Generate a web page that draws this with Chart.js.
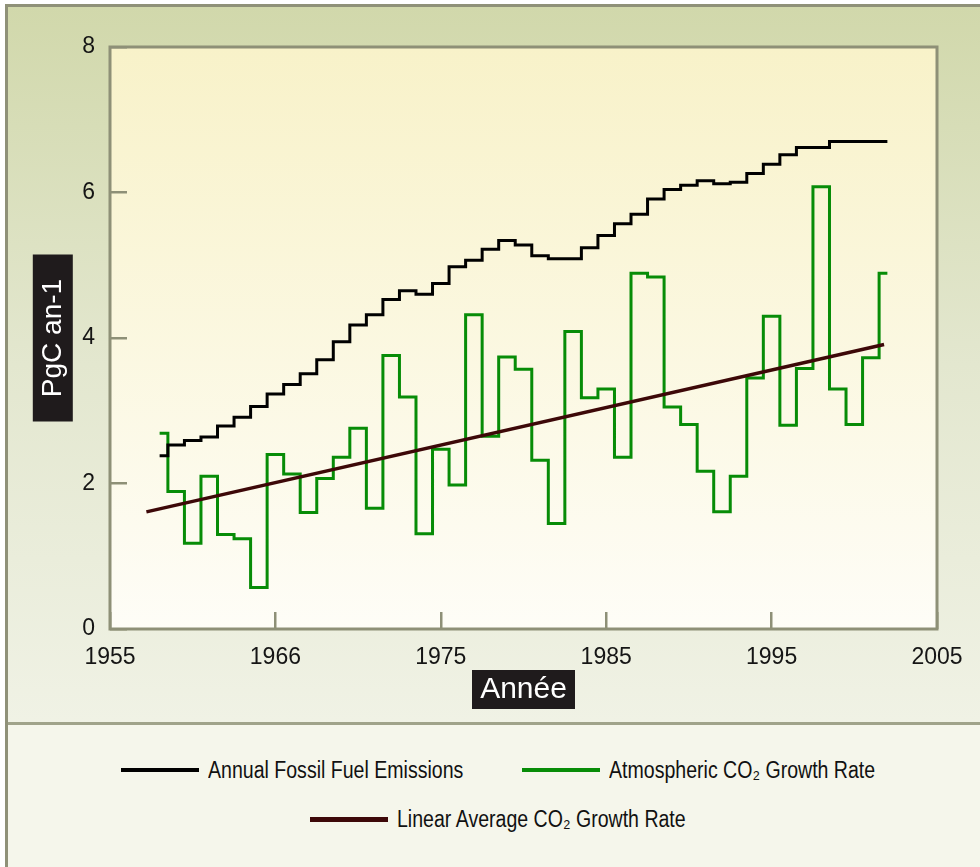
<!DOCTYPE html>
<html lang="fr">
<head>
<meta charset="utf-8">
<title>PgC an-1</title>
<script src="https://cdn.jsdelivr.net/npm/chart.js@4.4.1/dist/chart.umd.min.js"></script>
<style>
  html, body { margin: 0; padding: 0; background: #fff; }
  #page { position: relative; width: 980px; height: 867px; overflow: hidden; }
  #frame { position: absolute; left: 5px; top: 4px; right: 0; bottom: 0;
           border-top: 3px solid #8f9178; border-left: 3px solid #8f9178; }
  #topPanel { position: absolute; left: 0; top: 0; right: 0; height: 715px;
              background: linear-gradient(#d1d8ab, #e3e7cf 50%, #f0f2e5); }
  #sep { position: absolute; left: 0; right: 0; top: 715px; height: 3px; background: #a0a38a; }
  #bottomPanel { position: absolute; left: 0; right: 0; top: 718px; bottom: 0; background: #f5f6eb; }
  canvas { position: absolute; left: 0; top: 0; }
  #legend { position: absolute; left: 48px; top: 758px; width: 900px;
            display: flex; flex-wrap: wrap; justify-content: center;
            column-gap: 59px; row-gap: 25px; }
  #legend .item { display: flex; align-items: center; height: 24px; white-space: nowrap;
                  font: 23px 'Liberation Sans', Arial, sans-serif; color: #111; }
  #legend .swatch { display: inline-block; width: 78px; margin-right: 9px; }
  #legend .text { display: inline-block; transform-origin: left center; }
</style>
</head>
<body>
<div id="page">
  <div id="frame">
    <div id="topPanel"></div>
    <div id="sep"></div>
    <div id="bottomPanel"></div>
  </div>
  <canvas id="chart" width="980" height="722"></canvas>
  <div id="legend"></div>
</div>
<script>
// annual values, one step per year
const years = [
  1958, 1959, 1960, 1961, 1962, 1963, 1964, 1965, 1966, 1967,
  1968, 1969, 1970, 1971, 1972, 1973, 1974, 1975, 1976, 1977,
  1978, 1979, 1980, 1981, 1982, 1983, 1984, 1985, 1986, 1987,
  1988, 1989, 1990, 1991, 1992, 1993, 1994, 1995, 1996, 1997,
  1998, 1999, 2000, 2001, 2002
];
const fossilEmissions = [
  2.38, 2.53, 2.59, 2.64, 2.79, 2.91, 3.06, 3.23, 3.36, 3.51,
  3.70, 3.95, 4.18, 4.32, 4.53, 4.65, 4.60, 4.75, 4.98, 5.07,
  5.22, 5.34, 5.28, 5.13, 5.09, 5.09, 5.24, 5.41, 5.57, 5.70,
  5.91, 6.04, 6.10, 6.16, 6.12, 6.14, 6.26, 6.39, 6.52, 6.62,
  6.62, 6.70, 6.70, 6.70, 6.70
];
const co2GrowthRate = [
  2.69, 1.89, 1.18, 2.10, 1.30, 1.24, 0.57, 2.40, 2.13, 1.60,
  2.07, 2.36, 2.76, 1.66, 3.76, 3.19, 1.31, 2.47, 1.98, 4.32,
  2.65, 3.74, 3.57, 2.32, 1.45, 4.09, 3.18, 3.30, 2.36, 4.89,
  4.84, 3.05, 2.81, 2.17, 1.61, 2.10, 3.45, 4.30, 2.80, 3.58,
  6.08, 3.30, 2.81, 3.73, 4.89
];
// straight average line, end points
const trendYears = [1957.2, 2001.8];
const trendRate = [1.61, 3.91];

const seriesLabels = [
  'Annual Fossil Fuel Emissions',
  'Atmospheric CO₂ Growth Rate',
  'Linear Average CO₂ Growth Rate'
];
const xTickValues = [1955, 1965, 1975, 1985, 1995, 2005];
const xTickLabels = ['1955', '1966', '1975', '1985', '1995', '2005'];
const yTickValues = [0, 2, 4, 6, 8];
const xTitle = 'Année';
const yTitle = 'PgC an-1';

const FONT = "'Liberation Sans', Arial, Helvetica, sans-serif";
const X_TITLE_SIZE = 30, Y_TITLE_SIZE = 28;
const X_TITLE_PAD = 14.5, Y_TITLE_PAD = 36;
const LEGEND_SQUEEZE = 0.85;

const toPoints = (xs, ys) => xs.map((x, i) => ({ x: x, y: ys[i] }));

// plot background, black boxes under the axis titles, frame round the plot
const panelPlugin = {
  id: 'panel',
  beforeDraw(chart) {
    const { ctx, chartArea: a, scales } = chart;
    ctx.save();
    const g = ctx.createLinearGradient(0, a.top, 0, a.bottom);
    g.addColorStop(0, '#f8f2c9');
    g.addColorStop(1, '#fefdf7');
    ctx.fillStyle = g;
    ctx.fillRect(a.left, a.top, a.width, a.height);

    ctx.fillStyle = '#1f1b1c';
    const sx = scales.x, sy = scales.y;
    const xcx = (sx.left + sx.right) / 2;
    const xcy = sx.bottom - (X_TITLE_SIZE * 1.2 / 2 + X_TITLE_PAD);
    ctx.fillRect(xcx - 51.5, xcy - 19.5, 103, 39);
    const ycx = sy.left + Y_TITLE_SIZE * 1.2 / 2 + Y_TITLE_PAD;
    const ycy = (sy.top + sy.bottom) / 2;
    ctx.fillRect(ycx - 20, ycy - 83.5, 40, 167);
    ctx.restore();
  },
  afterDraw(chart) {
    const { ctx, chartArea: a } = chart;
    ctx.save();
    ctx.strokeStyle = '#8e9077';
    ctx.lineWidth = 3;
    ctx.strokeRect(a.left, a.top, a.width, a.height);
    ctx.restore();
  }
};

const tickGrid = { drawOnChartArea: false, tickLength: -17, color: '#8e9077', lineWidth: 2.5 };

const chart = new Chart(document.getElementById('chart'), {
  type: 'line',
  data: {
    datasets: [
      {
        label: seriesLabels[0],
        data: toPoints(years, fossilEmissions),
        borderColor: '#000000',
        borderWidth: 3,
        stepped: 'middle',
        order: 1
      },
      {
        label: seriesLabels[1],
        data: toPoints(years, co2GrowthRate),
        borderColor: '#078c07',
        borderWidth: 3,
        stepped: 'middle',
        order: 1
      },
      {
        label: seriesLabels[2],
        data: toPoints(trendYears, trendRate),
        borderColor: '#3d0808',
        borderWidth: 3.5,
        order: 0
      }
    ]
  },
  options: {
    responsive: false,
    animation: false,
    layout: { padding: { top: 47, right: 43, bottom: 0, left: 0 } },
    elements: { point: { radius: 0 } },
    plugins: {
      legend: { display: false },
      tooltip: { enabled: false }
    },
    scales: {
      x: {
        type: 'linear',
        min: 1955,
        max: 2005,
        afterBuildTicks: s => { s.ticks = xTickValues.map(v => ({ value: v })); },
        afterFit: s => {
          s.height = 93;
          // labels hang past the ends, keep them from shrinking the plot
          s.paddingLeft = 0;
          s.paddingRight = 0;
        },
        grid: tickGrid,
        border: { display: false },
        ticks: {
          padding: 32,
          color: '#151515',
          font: { family: FONT, size: 23 },
          maxRotation: 0,
          autoSkip: false,
          callback: v => xTickLabels[xTickValues.indexOf(v)]
        },
        title: {
          display: true,
          text: xTitle,
          color: '#ffffff',
          font: { family: FONT, size: X_TITLE_SIZE },
          padding: { top: 0, bottom: X_TITLE_PAD }
        }
      },
      y: {
        min: 0,
        max: 8,
        afterBuildTicks: s => { s.ticks = yTickValues.map(v => ({ value: v })); },
        afterFit: s => { s.width = 110; },
        grid: tickGrid,
        border: { display: false },
        ticks: {
          padding: 32,
          color: '#151515',
          font: { family: FONT, size: 23 }
        },
        title: {
          display: true,
          text: yTitle,
          color: '#ffffff',
          font: { family: FONT, size: Y_TITLE_SIZE },
          padding: { top: Y_TITLE_PAD, bottom: 0 }
        }
      }
    }
  },
  plugins: [panelPlugin]
});

// html legend from the datasets
const legendEl = document.getElementById('legend');
chart.data.datasets.forEach(ds => {
  const item = document.createElement('div');
  item.className = 'item';
  const swatch = document.createElement('span');
  swatch.className = 'swatch';
  swatch.style.background = ds.borderColor;
  swatch.style.height = Math.round(ds.borderWidth + 1) + 'px';
  const text = document.createElement('span');
  text.className = 'text';
  text.textContent = ds.label;
  item.append(swatch, text);
  legendEl.append(item);
  // condensed look
  const w = text.getBoundingClientRect().width;
  text.style.transform = 'scaleX(' + LEGEND_SQUEEZE + ')';
  text.style.marginRight = (-(1 - LEGEND_SQUEEZE) * w) + 'px';
});
</script>
</body>
</html>
